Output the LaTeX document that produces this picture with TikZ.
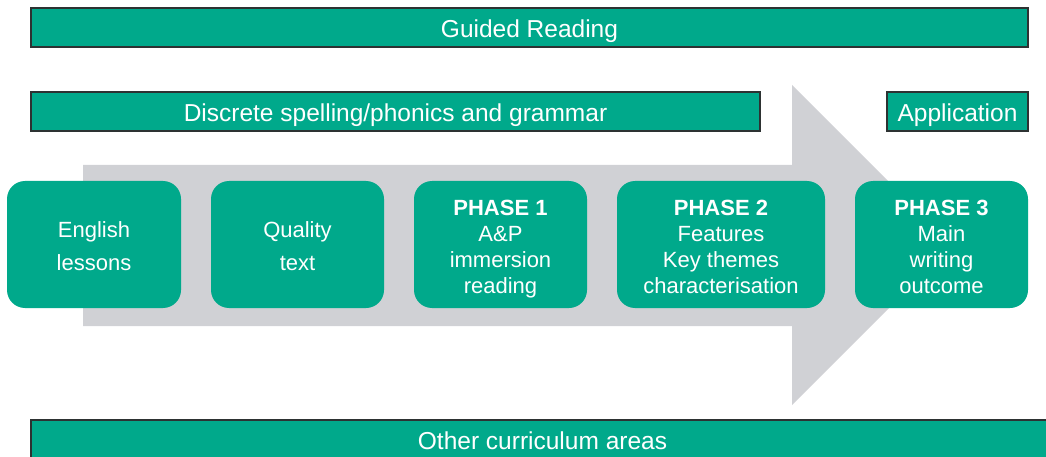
\documentclass[tikz,border=0pt]{standalone}
\usepackage{fontspec}
\setmainfont{Liberation Sans}
\begin{document}
\definecolor{teal}{RGB}{0,169,139}
\definecolor{arrowgray}{RGB}{208,209,213}
\definecolor{edgegray}{RGB}{45,50,50}
\begin{tikzpicture}[x=1pt,y=-1pt,
  bar/.style={draw=edgegray,line width=1.2pt,fill=teal,text=white,
    inner sep=0pt,minimum height=39pt,text height=21pt,text depth=1pt,
    font=\fontsize{24.5}{28}\selectfont},
  phasebox/.style={fill=teal,text=white,rounded corners=18pt,inner sep=0pt,
    minimum height=127pt,align=center,text height=102pt,text depth=5pt,
    font=\fontsize{22}{26}\selectfont},
  widebox/.style={phasebox,text height=56pt,font=\fontsize{22}{33}\selectfont}]
\useasboundingbox (0,0) rectangle (1046,457);
\clip (0,0) rectangle (1046,457);
% big grey arrow behind the phases
\fill[arrowgray] (83,165) -- (792,165) -- (792,85) -- (952,245)
  -- (792,405) -- (792,326) -- (83,326) -- cycle;
% horizontal bands
\node[bar,minimum width=997pt] (guided) at (529.5,27.5) {Guided Reading};
\node[bar,minimum width=729pt] (discrete) at (395.5,111.5) {Discrete spelling/phonics and grammar};
\node[bar,minimum width=141pt] (application) at (957.5,111.5) {Application};
\node[bar,minimum width=1023pt] (other) at (542.5,439.5) {Other curriculum areas};
% the phase boxes
\node[widebox,minimum width=174pt] (english) at (94,244.5) {English\\lessons};
\node[widebox,minimum width=173pt] (quality) at (297.5,244.5) {Quality\\text};
\node[phasebox,minimum width=173pt] (phase1) at (500.5,244.5)
  {\textbf{PHASE 1}\\A\&P\\immersion\\reading};
\node[phasebox,minimum width=208pt] (phase2) at (721,244.5)
  {\textbf{PHASE 2}\\Features\\Key themes\\characterisation};
\node[phasebox,minimum width=173pt] (phase3) at (941.5,244.5)
  {\textbf{PHASE 3}\\Main\\writing\\outcome};
\end{tikzpicture}
\end{document}
